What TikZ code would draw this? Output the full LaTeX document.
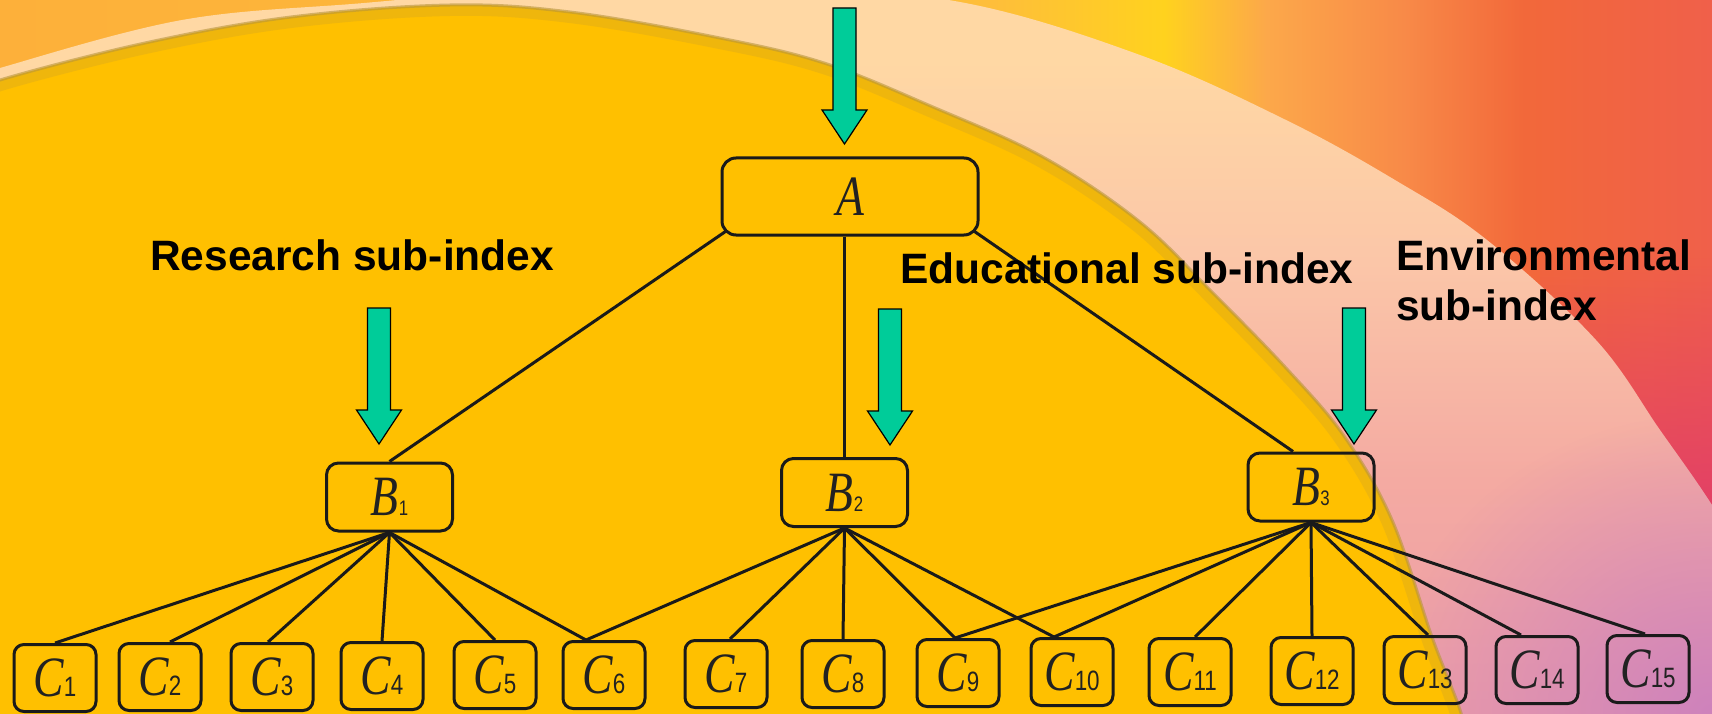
\documentclass[tikz,border=0pt]{standalone}
\usepackage{fontspec}
\setmainfont{Liberation Serif}
\newfontfamily\lsans{Liberation Sans}
\usepackage{graphicx}
\usetikzlibrary{calc,fadings}

\definecolor{yel}{HTML}{FFC000}
\definecolor{gr}{RGB}{0,204,153}
\definecolor{ln}{HTML}{1A1A1A}
\definecolor{txt}{HTML}{222222}
\definecolor{bgA}{HTML}{FDB03A}
\definecolor{bgB}{HTML}{FEBE3A}
\definecolor{bgC}{HTML}{FFD21E}
\definecolor{bgD}{HTML}{FCA84A}
\definecolor{bgE}{HTML}{F88A48}
\definecolor{bgF}{HTML}{F2683A}
\definecolor{bgG}{HTML}{F0604A}
\definecolor{bdA}{HTML}{FFD8A4}
\definecolor{bdB}{HTML}{FBC6A8}
\definecolor{bdC}{HTML}{F4AAA2}
\definecolor{bdD}{HTML}{EA9AA8}
\definecolor{mag}{HTML}{E03A6C}
\definecolor{pur}{HTML}{CE82BC}
\definecolor{streak}{HTML}{FFEE9C}
\definecolor{edgeC}{HTML}{B8953A}

\pgfdeclarehorizontalshading{bgshade}{100bp}{color(0bp)=(bgA); color(25bp)=(bgA); color(54bp)=(bgB); color(59bp)=(bgC); color(62bp)=(bgD); color(66bp)=(bgE); color(69.5bp)=(bgF); color(75bp)=(bgG); color(100bp)=(bgG)}
\pgfdeclareverticalshading{bandshade}{100bp}{color(0bp)=(bdD); color(25bp)=(bdD); color(43bp)=(bdC); color(57bp)=(bdB); color(70bp)=(bdA); color(100bp)=(bdA)}

\tikzfading[name=fadeup, top color=transparent!100, bottom color=transparent!0]
\tikzfading[name=fadecirc, inner color=transparent!0, outer color=transparent!100]
\tikzfading[name=fademid, left color=transparent!100, middle color=transparent!0, right color=transparent!100]

\newcommand{\Lab}[3]{\scalebox{0.8}[1]{\fontsize{57}{60}\selectfont\itshape #1\upshape{\lsans\fontsize{#3}{#3}\selectfont #2}}}

\begin{document}
\begin{tikzpicture}[x=1pt,y=-1pt,
  conn/.style={draw=ln, line width=3pt},
  boxA/.style={draw=ln, line width=3pt, rounded corners=14pt, minimum width=256pt, minimum height=77pt, inner sep=0pt, text depth=0pt, text=txt},
  boxB/.style={draw=ln, line width=3pt, rounded corners=12pt, minimum width=126pt, minimum height=68pt, inner sep=0pt, text depth=0pt, text=txt},
  boxC/.style={draw=ln, line width=3pt, rounded corners=10pt, minimum width=82pt, minimum height=67pt, inner sep=0pt, text depth=0pt, text=txt},
  lbl/.style={inner sep=0pt, text=black, font={\lsans\bfseries\fontsize{42.5}{50}\selectfont}},
  garrow/.pic={\filldraw[fill=gr, draw=black, line width=1.2pt, line join=miter] (-11.5,-136) -- (11.5,-136) -- (11.5,-34) -- (22.5,-34) -- (0,0) -- (-22.5,-34) -- (-11.5,-34) -- cycle;}
]
\useasboundingbox (0,0) rectangle (1712,714);

% ---------- background ----------
\begin{scope}
\clip (0,0) rectangle (1712,714);
\shade[shading=bgshade] (0,0) rectangle (1712,714);
\fill[mag, path fading=fadeup] (1540,250) rectangle (1712,560);
\shade[shading=bandshade] (-30,760) -- plot[smooth,tension=0.6] coordinates {(-30,80) (0,68) (182,20) (364,3) (550,-12) (760,-15) (960,2) (1140,55) (1286,120) (1395,180) (1487,240) (1596,340) (1660,430) (1712,505) (1770,600)} -- (1770,760) -- cycle;
\begin{scope}
\clip (-30,760) -- plot[smooth,tension=0.6] coordinates {(-30,80) (0,68) (182,20) (364,3) (550,-12) (760,-15) (960,2) (1140,55) (1286,120) (1395,180) (1487,240) (1596,340) (1660,430) (1712,505) (1770,600)} -- (1770,760) -- cycle;
\fill[streak, path fading=fademid, opacity=.85] (960,-20) rectangle (1260,330);
\fill[pur, path fading=fadecirc] (1712,714) ellipse [x radius=330, y radius=300];
\end{scope}
\fill[yel] (-30,760) -- plot[smooth,tension=0.6] coordinates {(-30,96) (0,80) (145,43) (291,17) (450,5) (570,12) (715,37) (824,63) (933,107) (1043,157) (1140,222) (1213,293) (1286,368) (1344,436) (1392,520) (1432,637) (1461,713) (1470,760)} -- cycle;
\begin{scope}
\clip (-30,760) -- plot[smooth,tension=0.6] coordinates {(-30,96) (0,80) (145,43) (291,17) (450,5) (570,12) (715,37) (824,63) (933,107) (1043,157) (1140,222) (1213,293) (1286,368) (1344,436) (1392,520) (1432,637) (1461,713) (1470,760)} -- cycle;
\draw[edgeC, line width=22pt, opacity=.22] plot[smooth,tension=0.6] coordinates {(-30,96) (0,80) (145,43) (291,17) (450,5) (570,12) (715,37) (824,63) (933,107) (1043,157) (1140,222) (1213,293) (1286,368) (1344,436) (1392,520) (1432,637) (1461,713) (1470,760)};
\end{scope}
\draw[edgeC, line width=3pt, opacity=.6] plot[smooth,tension=0.6] coordinates {(-30,96) (0,80) (145,43) (291,17) (450,5) (570,12) (715,37) (824,63) (933,107) (1043,157) (1140,222) (1213,293) (1286,368) (1344,436) (1392,520) (1432,637) (1461,713) (1470,760)};
\end{scope}

% ---------- nodes ----------
\node[boxA] (A) at (850,196.5) {\Lab{A}{}{10}};
\node[boxB] (B1) at (389.5,497) {\Lab{B}{1}{21}};
\node[boxB] (B2) at (844.5,492.5) {\Lab{B}{2}{21}};
\node[boxB] (B3) at (1311,487) {\Lab{B}{3}{21}};
\foreach \i/\x/\y in {1/55/678, 2/160/677, 3/272/677, 4/382/676, 5/495/675, 6/604/675, 7/726/674, 8/843/674, 9/958/673, 10/1072/672, 11/1190/672, 12/1312/671, 13/1425/670, 14/1537/670, 15/1648/669}
  \node[boxC] (C\i) at (\x,\y) {\Lab{C}{\i}{28}};

% ---------- connectors ----------
\draw[conn] ($(A.south west)+(5,-5)$) -- (B1.north);
\draw[conn] (B2.north |- A.south) -- (B2.north);
\draw[conn] ($(A.south east)+(-5,-5)$) -- ($(B3.north)+(-18,0)$);
\foreach \ci/\dx in {1/0, 2/10, 3/-4, 4/0, 5/0, 6/-18}
  \draw[conn] (B1.south) -- ($(C\ci.north)+(\dx,0)$);
\foreach \ci/\dx in {6/-18, 7/4, 8/0, 9/-3, 10/-18}
  \draw[conn] (B2.south) -- ($(C\ci.north)+(\dx,0)$);
\foreach \ci/\dx in {9/-3, 10/-18, 11/5, 12/0, 13/3, 14/-16, 15/-3}
  \draw[conn] (B3.south) -- ($(C\ci.north)+(\dx,0)$);

% ---------- green arrows ----------
\pic at (844.5,144) {garrow};
\pic at (379,444) {garrow};
\pic at (890,445) {garrow};
\pic at (1354,444) {garrow};

% ---------- labels ----------
\node[lbl, anchor=base west] (research) at (150,270) {Research sub-index};
\node[lbl, anchor=base west] (edu) at (900,283) {Educational sub-index};
\node[lbl, anchor=base west] (env1) at (1396,270) {Environmental};
\node[lbl, anchor=base west] (env2) at (1396,320) {sub-index};
\end{tikzpicture}
\end{document}
